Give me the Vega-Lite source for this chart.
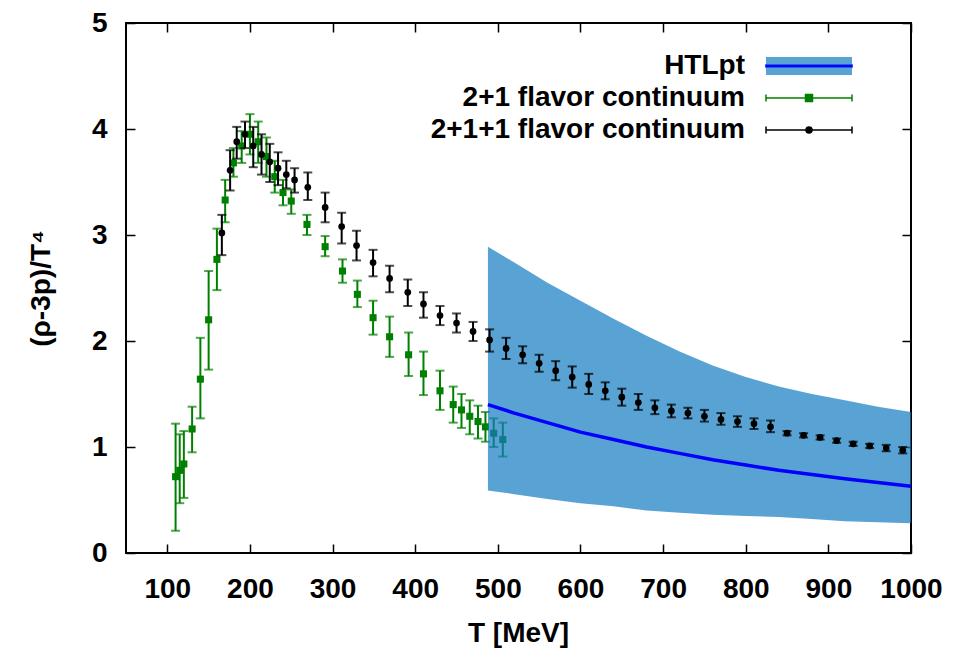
{
  "$schema": "https://vega.github.io/schema/vega-lite/v6.json",
  "width": 785,
  "height": 530,
  "autosize": {"type": "none"},
  "padding": {"left": 126, "top": 23, "right": 45, "bottom": 103},
  "config": {
    "font": "Liberation Sans",
    "view": {"stroke": "#000", "strokeWidth": 2},
    "axis": {"grid": false, "domain": false, "tickColor": "#000", "tickWidth": 1.5, "labelColor": "#000", "titleColor": "#000", "labelFontSize": 28, "labelFontWeight": "bold", "titleFontSize": 28, "titleFontWeight": "bold", "labelOverlap": false, "labelFlush": false, "format": "d"}
  },
  "datasets": {
    "g": [
      {"T": 110, "v": 0.72, "lo": 0.21, "hi": 1.22},
      {"T": 115, "v": 0.78, "lo": 0.47, "hi": 1.12},
      {"T": 120, "v": 0.84, "lo": 0.52, "hi": 1.15},
      {"T": 130, "v": 1.17, "lo": 0.95, "hi": 1.38},
      {"T": 140, "v": 1.64, "lo": 1.27, "hi": 2.03},
      {"T": 150, "v": 2.2, "lo": 1.73, "hi": 2.66},
      {"T": 160, "v": 2.77, "lo": 2.48, "hi": 3.06},
      {"T": 170, "v": 3.33, "lo": 3.12, "hi": 3.52},
      {"T": 180, "v": 3.68, "lo": 3.55, "hi": 3.82},
      {"T": 190, "v": 3.84, "lo": 3.68, "hi": 3.98},
      {"T": 200, "v": 3.95, "lo": 3.76, "hi": 4.14},
      {"T": 210, "v": 3.88, "lo": 3.68, "hi": 4.07},
      {"T": 220, "v": 3.74, "lo": 3.55, "hi": 3.92},
      {"T": 230, "v": 3.55, "lo": 3.4, "hi": 3.7},
      {"T": 240, "v": 3.4, "lo": 3.28, "hi": 3.52},
      {"T": 250, "v": 3.32, "lo": 3.2, "hi": 3.43},
      {"T": 269, "v": 3.1, "lo": 3.0, "hi": 3.19},
      {"T": 291, "v": 2.89, "lo": 2.8, "hi": 2.99},
      {"T": 312, "v": 2.66, "lo": 2.55, "hi": 2.77},
      {"T": 330, "v": 2.44, "lo": 2.32, "hi": 2.57},
      {"T": 349, "v": 2.22, "lo": 2.06, "hi": 2.38},
      {"T": 369, "v": 2.04, "lo": 1.85, "hi": 2.23},
      {"T": 392, "v": 1.87, "lo": 1.67, "hi": 2.08},
      {"T": 410, "v": 1.69, "lo": 1.49, "hi": 1.9},
      {"T": 430, "v": 1.53, "lo": 1.35, "hi": 1.72},
      {"T": 446, "v": 1.4, "lo": 1.23, "hi": 1.57},
      {"T": 456, "v": 1.35, "lo": 1.18, "hi": 1.5},
      {"T": 466, "v": 1.29, "lo": 1.12, "hi": 1.44},
      {"T": 476, "v": 1.24, "lo": 1.08, "hi": 1.39},
      {"T": 485, "v": 1.19, "lo": 1.05, "hi": 1.33},
      {"T": 495, "v": 1.13, "lo": 1.0, "hi": 1.27},
      {"T": 506, "v": 1.07, "lo": 0.91, "hi": 1.23}
    ],
    "k": [
      {"T": 166, "v": 3.02, "lo": 2.81, "hi": 3.19},
      {"T": 176, "v": 3.61, "lo": 3.42, "hi": 3.8},
      {"T": 184, "v": 3.88, "lo": 3.72, "hi": 4.02},
      {"T": 194, "v": 3.95, "lo": 3.82, "hi": 4.07},
      {"T": 204, "v": 3.84, "lo": 3.64, "hi": 4.02},
      {"T": 214, "v": 3.76, "lo": 3.57, "hi": 3.95},
      {"T": 224, "v": 3.69, "lo": 3.5, "hi": 3.86},
      {"T": 234, "v": 3.63, "lo": 3.47, "hi": 3.78},
      {"T": 244, "v": 3.57, "lo": 3.44, "hi": 3.7},
      {"T": 254, "v": 3.52, "lo": 3.4, "hi": 3.63},
      {"T": 270, "v": 3.45, "lo": 3.33, "hi": 3.59},
      {"T": 291, "v": 3.26, "lo": 3.12, "hi": 3.4},
      {"T": 311, "v": 3.08, "lo": 2.92, "hi": 3.21},
      {"T": 329, "v": 2.9, "lo": 2.76, "hi": 3.04},
      {"T": 349, "v": 2.74, "lo": 2.61, "hi": 2.86},
      {"T": 369, "v": 2.59, "lo": 2.46, "hi": 2.71},
      {"T": 391, "v": 2.46, "lo": 2.33, "hi": 2.58},
      {"T": 410, "v": 2.35, "lo": 2.22, "hi": 2.46},
      {"T": 430, "v": 2.24, "lo": 2.15, "hi": 2.33},
      {"T": 450, "v": 2.17, "lo": 2.08, "hi": 2.26},
      {"T": 470, "v": 2.09, "lo": 2.0, "hi": 2.18},
      {"T": 490, "v": 2.01, "lo": 1.9, "hi": 2.11},
      {"T": 510, "v": 1.93, "lo": 1.83, "hi": 2.03},
      {"T": 530, "v": 1.87, "lo": 1.79, "hi": 1.95},
      {"T": 550, "v": 1.79, "lo": 1.71, "hi": 1.87},
      {"T": 570, "v": 1.72, "lo": 1.63, "hi": 1.81},
      {"T": 590, "v": 1.66, "lo": 1.56, "hi": 1.76},
      {"T": 610, "v": 1.59, "lo": 1.5, "hi": 1.69},
      {"T": 630, "v": 1.53, "lo": 1.45, "hi": 1.61},
      {"T": 650, "v": 1.47, "lo": 1.39, "hi": 1.55},
      {"T": 670, "v": 1.42, "lo": 1.35, "hi": 1.5},
      {"T": 690, "v": 1.37, "lo": 1.31, "hi": 1.44},
      {"T": 710, "v": 1.34, "lo": 1.28, "hi": 1.4},
      {"T": 730, "v": 1.32, "lo": 1.27, "hi": 1.37},
      {"T": 750, "v": 1.29, "lo": 1.24, "hi": 1.35},
      {"T": 770, "v": 1.26, "lo": 1.21, "hi": 1.32},
      {"T": 790, "v": 1.24, "lo": 1.19, "hi": 1.29},
      {"T": 810, "v": 1.22, "lo": 1.17, "hi": 1.27},
      {"T": 830, "v": 1.19, "lo": 1.14, "hi": 1.25},
      {"T": 850, "v": 1.13, "lo": 1.11, "hi": 1.15},
      {"T": 870, "v": 1.11, "lo": 1.09, "hi": 1.13},
      {"T": 890, "v": 1.09, "lo": 1.07, "hi": 1.11},
      {"T": 910, "v": 1.06, "lo": 1.04, "hi": 1.08},
      {"T": 930, "v": 1.03, "lo": 1.01, "hi": 1.05},
      {"T": 950, "v": 1.01, "lo": 0.99, "hi": 1.03},
      {"T": 970, "v": 0.99, "lo": 0.96, "hi": 1.02},
      {"T": 990, "v": 0.97, "lo": 0.94, "hi": 1.0}
    ],
    "h": [
      {"T": 488, "lo": 0.59, "hi": 2.89, "c": 1.4},
      {"T": 520, "lo": 0.555, "hi": 2.74, "c": 1.32},
      {"T": 560, "lo": 0.51, "hi": 2.55, "c": 1.23},
      {"T": 600, "lo": 0.47, "hi": 2.38, "c": 1.14},
      {"T": 640, "lo": 0.44, "hi": 2.21, "c": 1.07},
      {"T": 680, "lo": 0.4, "hi": 2.05, "c": 1.0},
      {"T": 720, "lo": 0.38, "hi": 1.9, "c": 0.94},
      {"T": 760, "lo": 0.36, "hi": 1.77, "c": 0.88},
      {"T": 800, "lo": 0.35, "hi": 1.66, "c": 0.83},
      {"T": 840, "lo": 0.34, "hi": 1.57, "c": 0.78},
      {"T": 880, "lo": 0.32, "hi": 1.5, "c": 0.74},
      {"T": 920, "lo": 0.3, "hi": 1.44, "c": 0.7},
      {"T": 960, "lo": 0.29, "hi": 1.38, "c": 0.665},
      {"T": 1000, "lo": 0.28, "hi": 1.33, "c": 0.63}
    ]
  },
  "layer": [
    {
      "data": {"name": "g"},
      "encoding": {
        "x": {"field": "T", "type": "quantitative", "scale": {"domain": [50, 1000], "nice": false}, "axis": null},
        "color": {"datum": "2+1 flavor continuum", "type": "nominal"}
      },
      "layer": [
        {"mark": {"type": "rule", "strokeWidth": 2}, "encoding": {"y": {"field": "lo", "type": "quantitative", "scale": {"domain": [0, 5], "nice": false}, "axis": null}, "y2": {"field": "hi"}}},
        {"mark": {"type": "tick", "orient": "horizontal", "size": 9, "thickness": 2}, "encoding": {"y": {"field": "lo", "type": "quantitative", "axis": null}}},
        {"mark": {"type": "tick", "orient": "horizontal", "size": 9, "thickness": 2}, "encoding": {"y": {"field": "hi", "type": "quantitative", "axis": null}}},
        {"mark": {"type": "point", "shape": "square", "filled": true, "size": 50, "opacity": 1}, "encoding": {"y": {"field": "v", "type": "quantitative", "axis": null}}}
      ]
    },
    {
      "data": {"name": "h"},
      "mark": {"type": "area", "opacity": 0.7},
      "encoding": {
        "x": {"field": "T", "type": "quantitative", "axis": {"orient": "bottom", "values": [100, 200, 300, 400, 500, 600, 700, 800, 900, 1000], "tickSize": -9, "labelPadding": 31, "title": "T [MeV]", "titleX": 392, "titleY": 80, "titleBaseline": "middle", "titleAlign": "center"}},
        "y": {"field": "lo", "type": "quantitative", "axis": {"orient": "left", "values": [0, 1, 2, 3, 4, 5], "tickSize": -9, "labelPadding": 28, "title": "(ρ-3p)/T⁴", "titleX": -85, "titleY": 265, "titleAngle": -90, "titleBaseline": "middle", "titleAlign": "center"}},
        "y2": {"field": "hi"},
        "fill": {
          "datum": "HTLpt",
          "type": "nominal",
          "scale": {"domain": ["HTLpt"], "range": ["#137AC2"]},
          "legend": {
            "orient": "none",
            "legendX": 669,
            "legendY": 29,
            "title": null,
            "padding": 0,
            "labelFont": "Liberation Sans",
            "labelFontSize": 28,
            "labelFontWeight": "bold",
            "labelOpacity": 0,
            "labelLimit": 0,
            "symbolSize": 400,
            "symbolStrokeWidth": 0,
            "symbolOpacity": 0.7,
            "symbolType": "M-4.3,-0.9H4.3V-0.12H-4.3Z M-4.3,0.12H4.3V0.9H-4.3Z"
          }
        }
      }
    },
    {
      "data": {"name": "h"},
      "mark": {"type": "line", "color": "#0000FF", "strokeWidth": 3.5},
      "encoding": {
        "x": {"field": "T", "type": "quantitative", "axis": {"orient": "top", "values": [100, 200, 300, 400, 500, 600, 700, 800, 900, 1000], "tickSize": -9, "labels": false, "title": null}},
        "y": {"field": "c", "type": "quantitative", "axis": {"orient": "right", "values": [0, 1, 2, 3, 4, 5], "tickSize": -9, "labels": false, "title": null}}
      }
    },
    {
      "data": {"name": "k"},
      "encoding": {
        "x": {"field": "T", "type": "quantitative", "axis": null},
        "color": {
          "datum": "2+1+1 flavor continuum",
          "type": "nominal",
          "scale": {"domain": ["HTLpt", "2+1 flavor continuum", "2+1+1 flavor continuum"], "range": ["#0000FF", "#008000", "#000000"]},
          "legend": {
            "orient": "none",
            "legendX": 669,
            "legendY": 29,
            "title": null,
            "padding": 0,
            "labelFont": "Liberation Sans",
            "labelFontSize": 28,
            "labelFontWeight": "bold",
            "labelColor": "#000",
            "labelAlign": "right",
            "labelOffset": -78,
            "labelLimit": 0,
            "symbolSize": 400,
            "rowPadding": 4,
            "symbolType": "M-4.3,0H4.3",
            "encode": {
              "symbols": {
                "update": {
                  "shape": {"signal": "datum.value === 'HTLpt' ? 'M-4.3,-0.1H4.3V0.1H-4.3Z' : datum.value === '2+1 flavor continuum' ? 'M-4.3,0H4.3M-4.3,-0.35V0.35M4.3,-0.35V0.35M-0.35,-0.35H0.35V0.35H-0.35Z' : 'M-4.3,0H4.3M-4.3,-0.35V0.35M4.3,-0.35V0.35M0.3,0A0.3,0.3 0 1,1 -0.3,0A0.3,0.3 0 1,1 0.3,0Z'"},
                  "strokeWidth": {"value": 1.5},
                  "opacity": {"value": 1},
                  "fillOpacity": {"value": 1},
                  "strokeOpacity": {"value": 1}
                }
              }
            }
          }
        }
      },
      "layer": [
        {"mark": {"type": "rule", "strokeWidth": 2}, "encoding": {"y": {"field": "lo", "type": "quantitative", "axis": null}, "y2": {"field": "hi"}}},
        {"mark": {"type": "tick", "orient": "horizontal", "size": 9, "thickness": 2}, "encoding": {"y": {"field": "lo", "type": "quantitative", "axis": null}}},
        {"mark": {"type": "tick", "orient": "horizontal", "size": 9, "thickness": 2}, "encoding": {"y": {"field": "hi", "type": "quantitative", "axis": null}}},
        {"mark": {"type": "point", "shape": "circle", "filled": true, "size": 45, "opacity": 1}, "encoding": {"y": {"field": "v", "type": "quantitative", "axis": null}}}
      ]
    }
  ],
  "resolve": {"axis": {"x": "independent", "y": "independent"}}
}
